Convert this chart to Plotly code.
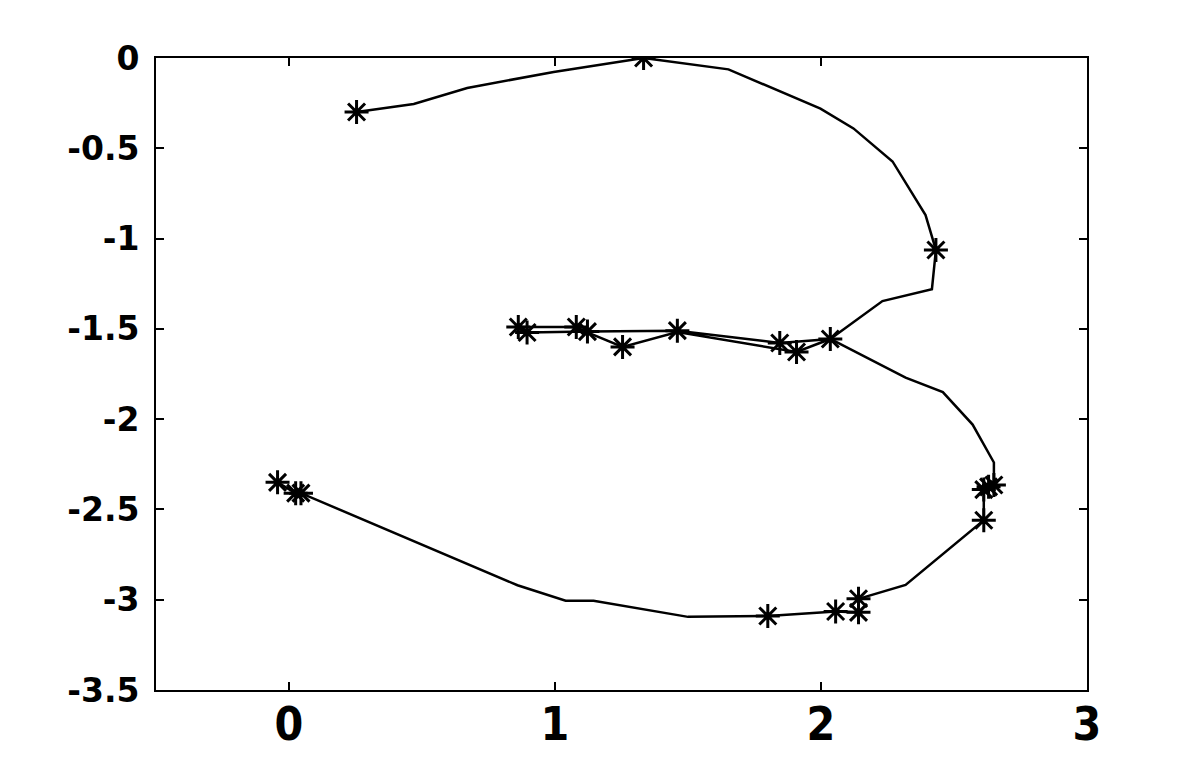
import plotly.graph_objects as go

# trajectory (line vertices, in drawing order)
path_x = [
    0.254, 0.469, 0.67, 0.995, 1.333, 1.652, 1.998, 2.122, 2.269, 2.393,
    2.432, 2.417, 2.231, 2.035,
    1.845, 1.46, 1.122, 0.895, 0.862,
    1.08, 1.122, 1.254, 1.46, 1.908, 2.035,
    2.318, 2.458, 2.57, 2.65, 2.65, 2.612, 2.612, 2.318, 2.141, 2.141,
    2.055, 1.8, 1.5, 1.145, 1.04, 0.859, 0.045, 0.025, -0.043,
]
path_y = [
    -0.299, -0.255, -0.166, -0.077, 0.0, -0.063, -0.28, -0.39, -0.573, -0.87,
    -1.063, -1.28, -1.346, -1.556,
    -1.578, -1.51, -1.515, -1.52, -1.49,
    -1.49, -1.52, -1.6, -1.517, -1.628, -1.556,
    -1.77, -1.85, -2.03, -2.24, -2.365, -2.39, -2.56, -2.918, -2.995, -3.07,
    -3.065, -3.09, -3.095, -3.006, -3.006, -2.92, -2.41, -2.41, -2.35,
]

# sampled points shown with stars
star_x = [
    0.254, 1.333, 2.432, 2.035, 1.845, 1.46, 1.122, 0.895, 0.862, 1.08,
    1.254, 1.908, 2.65, 2.63, 2.612, 2.612, 2.141, 2.141, 2.055, 1.8,
    0.045, 0.025, -0.043,
]
star_y = [
    -0.299, 0.0, -1.063, -1.556, -1.578, -1.51, -1.515, -1.52, -1.49, -1.49,
    -1.6, -1.628, -2.365, -2.375, -2.39, -2.56, -2.995, -3.07, -3.065, -3.09,
    -2.41, -2.41, -2.35,
]

x_ticks = [0, 1, 2, 3]
y_ticks = [0, -0.5, -1, -1.5, -2, -2.5, -3, -3.5]

fig = go.Figure()
fig.add_trace(
    go.Scatter(
        x=path_x,
        y=path_y,
        mode="lines",
        line={"color": "black", "width": 2.5},
        hoverinfo="skip",
    )
)
fig.add_trace(
    go.Scatter(
        x=star_x,
        y=star_y,
        mode="markers",
        marker={
            "symbol": "asterisk-open",
            "size": 20,
            "color": "black",
            "line": {"color": "black", "width": 3},
        },
    )
)

axis_common = {
    "showline": True,
    "linecolor": "black",
    "linewidth": 2,
    "mirror": "ticks",
    "ticks": "inside",
    "ticklen": 8,
    "tickwidth": 2,
    "tickcolor": "black",
    "showgrid": False,
    "zeroline": False,
    "automargin": False,
}

fig.update_layout(
    width=1200,
    height=779,
    showlegend=False,
    paper_bgcolor="white",
    plot_bgcolor="white",
    # page body adds an 8px offset, so margins are shifted to compensate
    margin={"l": 148, "r": 121, "t": 50, "b": 97},
    xaxis={
        **axis_common,
        "range": [-0.5, 3],
        "tickvals": x_ticks,
        "ticktext": [str(v) for v in x_ticks],
        "ticklabelstandoff": -7,
        "tickfont": {
            "family": "Liberation Sans Narrow, DejaVu Sans Condensed, sans-serif",
            "size": 46,
            "color": "black",
            "weight": "bold",
        },
    },
    yaxis={
        **axis_common,
        "range": [-3.5, 0],
        "tickvals": y_ticks,
        "ticktext": [f"{v:g}" for v in y_ticks],
        "ticklabelstandoff": 8,
        "tickfont": {
            "family": "DejaVu Sans, sans-serif",
            "size": 33,
            "color": "black",
            "weight": "bold",
        },
    },
)

fig.write_html("out.html")
